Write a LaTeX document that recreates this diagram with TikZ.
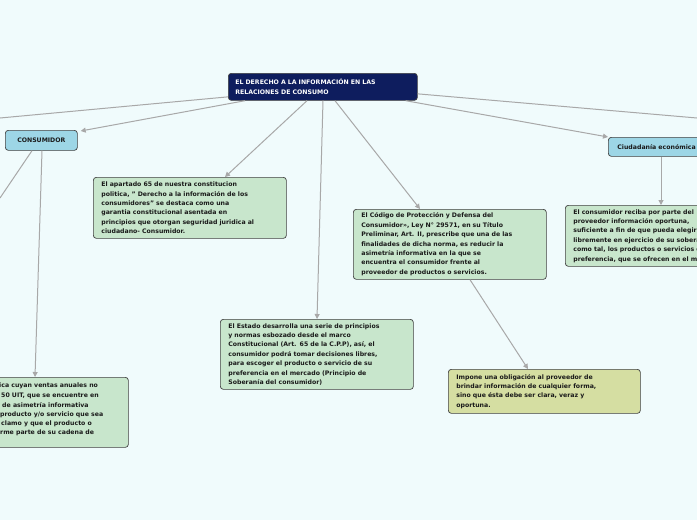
\documentclass[tikz,border=0pt]{standalone}
\usepackage{fontspec}
\setmainfont{DejaVu Sans}
\usetikzlibrary{calc,arrows.meta}
\definecolor{bg}{HTML}{F0FBFC}
\definecolor{navy}{HTML}{0E1D5E}
\definecolor{lblue}{HTML}{9DD6E6}
\definecolor{lgreen}{HTML}{C8E6CC}
\definecolor{ygreen}{HTML}{D5DEA2}
\definecolor{edge}{HTML}{A8A8A8}
\definecolor{txt}{HTML}{1A1A1A}
\tikzset{
 box/.style={draw=black!75,rounded corners=3pt,line width=0.7pt,anchor=north west,align=left,inner sep=0pt,
   font=\fontsize{6.2}{9.4}\selectfont\bfseries,text=txt},
 gbox/.style={box,fill=lgreen},
 con/.style={draw=edge,line width=1pt,-{Triangle[width=5pt,length=5pt]}},
 plain/.style={draw=edge,line width=1pt},
 ln/.style={anchor=west,inner sep=0pt,font=\fontsize{6.2}{9.4}\selectfont\bfseries,text=txt}
}
\begin{document}
\begin{tikzpicture}[x=1pt,y=-1pt]
\fill[bg] (0,0) rectangle (697,520);
\useasboundingbox (0,0) rectangle (697,520);
\clip (0,0) rectangle (697,520);
% nodes
\node[box,fill=navy,text=white,minimum width=189pt,minimum height=27pt,text width=175pt,inner xsep=7pt] (root) at (228,73) {EL DERECHO A LA INFORMACIÓN EN LAS\\RELACIONES DE CONSUMO};
\node[box,fill=lblue,minimum width=72pt,minimum height=20pt,align=center,text width=72pt] (cons) at (5,130) {CONSUMIDOR};
\node[box,fill=lblue,minimum width=110pt,minimum height=19pt,text width=100pt,inner xsep=9pt] (ciud) at (608,137) {Ciudadanía económica};
\node[gbox,minimum width=191pt,minimum height=61pt,text width=177pt,inner xsep=8pt] (a) at (93,177) {El apartado 65 de nuestra constitucion\\politica, " Derecho a la información de los\\consumidores" se destaca como una\\garantia constitucional asentada en\\principios que otorgan seguridad juridica al\\ciudadano- Consumidor.};
\node[gbox,minimum width=191pt,minimum height=70pt,text width=177pt,inner xsep=8pt] (b) at (353,209) {El Código de Protección y Defensa del\\Consumidor», Ley N° 29571, en su Título\\Preliminar, Art. II, prescribe que una de las\\finalidades de dicha norma, es reducir la\\asimetría informativa en la que se\\encuentra el consumidor frente al\\proveedor de productos o servicios.};
\node[gbox,minimum width=191pt,minimum height=70pt,text width=177pt,inner xsep=8pt] (c) at (220,319) {El Estado desarrolla una serie de principios\\y normas esbozado desde el marco\\Constitucional (Art. 65 de la C.P.P), así, el\\consumidor podrá tomar decisiones libres,\\para escoger el producto o servicio de su\\preferencia en el mercado (Principio de\\Soberanía del consumidor)};
\node[box,fill=ygreen,minimum width=190pt,minimum height=44pt,text width=176pt,inner xsep=8pt] (d) at (448,369) {Impone una obligación al proveedor de\\brindar información de cualquier forma,\\sino que ésta debe ser clara, veraz y\\oportuna.};
\node[gbox,minimum width=191pt,minimum height=61pt,text width=177pt,inner xsep=8pt] (f) at (565,205) {El consumidor reciba por parte del\\proveedor información oportuna,\\suficiente a fin de que pueda elegir\\libremente en ejercicio de su soberanía\\como tal, los productos o servicios de su\\preferencia, que se ofrecen en el mercado};
\node[gbox,minimum width=150pt,minimum height=70pt] (e) at (-22,377) {};
\node[ln] at (-1,386) {ica cuyan ventas anuales no};
\node[ln] at (1,396) {50 UIT, que se encuentre en};
\node[ln] at (2,405) {de asimetría informativa};
\node[ln] at (0,415) {producto y/o servicio que sea};
\node[ln] at (1,424) {clamo y que el producto o};
\node[ln] at (0,433) {rme parte de su cadena de};
% connectors
\coordinate (lo) at (0,118);
\coordinate (ro) at (697,118);
\coordinate (co) at (0,198);
\draw[plain] ($(root.west)+(0,10)$) -- (lo);
\draw[plain] ($(root.east)+(0,7)$) -- (ro);
\draw[plain] ($(cons.south west)+(27,0)$) -- (co);
\draw[con] ($(root.south west)+(17,0)$) -- ($(cons.north east)+(3,1)$);
\draw[con] ($(root.south west)+(79,0)$) -- ($(a.north west)+(132,0)$);
\draw[con] ($(root.south west)+(95,0)$) -- ($(c.north west)+(97,0)$);
\draw[con] ($(root.south west)+(107,0)$) -- ($(b.north west)+(67,0)$);
\draw[con] ($(root.south east)+(-12,0)$) -- (ciud.north west);
\draw[con] ($(cons.south west)+(37,0)$) -- ($(e.north west)+(57,0)$);
\draw[con] ($(ciud.south west)+(53,0)$) -- ($(f.north west)+(96,0)$);
\draw[con] ($(b.south west)+(117,0)$) -- ($(d.north west)+(80,0)$);
\end{tikzpicture}
\end{document}
